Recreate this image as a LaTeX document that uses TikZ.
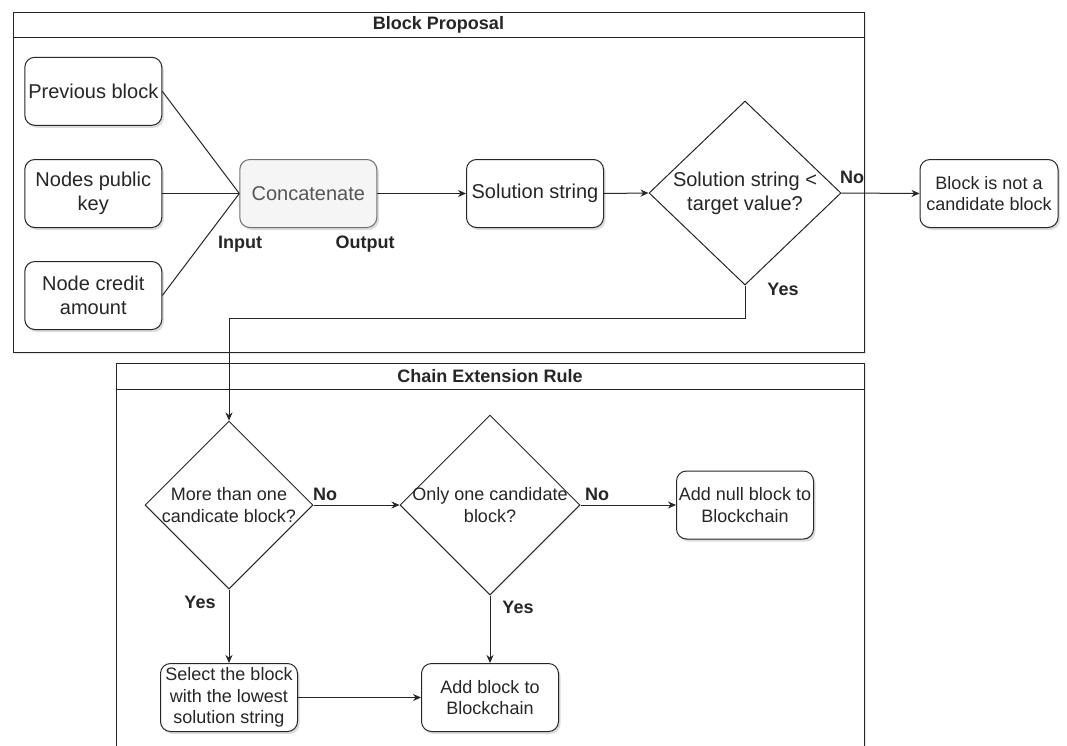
\documentclass[tikz,border=0pt]{standalone}
\usepackage{fontspec}
\setmainfont{Liberation Sans}
\usetikzlibrary{shapes.geometric,arrows.meta,shadows,calc}
\definecolor{ink}{HTML}{262626}
\definecolor{softfill}{HTML}{F5F5F5}
\definecolor{softline}{HTML}{707070}
\definecolor{softtext}{HTML}{555555}
\begin{document}
\begin{tikzpicture}[x=1pt,y=-1pt,
  shade/.style={drop shadow={shadow xshift=2pt,shadow yshift=-2.5pt,fill=black!30,opacity=.45}},
  frameshade/.style={drop shadow={shadow xshift=1.5pt,shadow yshift=-2pt,fill=black!20,opacity=.45}},
  frame/.style={draw=ink,line width=1pt,fill=white,inner sep=0pt,frameshade},
  frameline/.style={draw=ink,line width=1pt},
  title/.style={font=\bfseries\fontsize{18}{21.6}\selectfont,text=ink,inner sep=0pt},
  box/.style={draw=ink,line width=1pt,rounded corners=10pt,fill=white,
    minimum width=137pt,minimum height=68pt,inner sep=1pt,align=center,
    text=ink,font=\fontsize{18}{21.6}\selectfont,shade},
  bigtext/.style={font=\fontsize{20}{24}\selectfont},
  softbox/.style={box,fill=softfill,draw=softline,text=softtext},
  decision/.style={diamond,draw=ink,line width=1pt,fill=white,inner sep=0pt},
  dtext/.style={align=center,text=ink,inner sep=0pt,font=\fontsize{18}{21.6}\selectfont},
  lbl/.style={font=\bfseries\fontsize{18}{21.6}\selectfont,text=ink,inner sep=0pt},
  conn/.style={draw=ink,line width=1pt},
  arr/.style={conn,-{Stealth[length=8pt,width=7pt]}}]
\useasboundingbox (0,0) rectangle (1067,745);
\clip (0,0) rectangle (1067,745);
\fill[white] (0,0) rectangle (1067,745);

% swimlane frames
\node[frame,minimum width=851pt,minimum height=340pt] (bp) at (438.5,182) {};
\draw[frameline] ($(bp.north west)+(0,26)$) -- ($(bp.north east)+(0,26)$);
\node[title] (bptitle) at ($(bp.north)+(0,13)$) {Block Proposal};

\node[frame,minimum width=748pt,minimum height=417pt] (ce) at (490,571.5) {};
\draw[frameline] ($(ce.north west)+(0,27)$) -- ($(ce.north east)+(0,27)$);
\node[title] (cetitle) at ($(ce.north)+(0,13.5)$) {Chain Extension Rule};

% block proposal
\node[box,bigtext] (prev) at (93.3,91.3) {Previous block};
\node[box,bigtext] (pubkey) at (93.3,193.5) {Nodes public\\key};
\node[box,bigtext] (credit) at (93.3,295.5) {Node credit\\amount};
\node[softbox,bigtext] (concat) at (308.3,193.5) {Concatenate};
\node[box,bigtext] (sol) at (535,193.5) {Solution string};
\node[decision,minimum width=192pt,minimum height=184pt] (dec1) at (745,193) {};
\node[dtext,bigtext] (dec1t) at (dec1) {Solution string <\\target value?};
\node[box,minimum width=138pt] (notcand) at (989,193.5) {Block is not a\\candidate block};

\node[lbl] (inlbl) at (240,244) {Input};
\node[lbl] (outlbl) at (365,244) {Output};

\draw[conn] (prev.east) -- (concat.west);
\draw[conn] (pubkey.east) -- (concat.west);
\draw[conn] (credit.east) -- (concat.west);
\draw[arr] (concat.east) -- (sol.west);
\draw[arr] (sol.east) -- (dec1.west);
\draw[arr] (dec1.east) -- (notcand.west);
\node[lbl] (no0) at (852,177) {No};
\node[lbl] (yes0) at (783,289) {Yes};

% chain extension rule
\node[decision,minimum width=168pt,minimum height=168pt] (more) at (229,505) {};
\node[dtext] (moret) at (more) {More than one\\candicate block?};
\node[decision,minimum width=180pt,minimum height=180pt] (only) at (490,505) {};
\node[dtext] (onlyt) at (only) {Only one candidate\\block?};
\node[box] (null) at (745,505) {Add null block to\\Blockchain};
\node[box] (select) at (229,697.5) {Select the block\\with the lowest\\solution string};
\node[box] (add) at (490,697.5) {Add block to\\Blockchain};

\draw[arr] (dec1.south) -- ++(0,33) -| (more.north);
\draw[arr] (more.east) -- (only.west);
\draw[arr] (only.east) -- (null.west);
\draw[arr] (more.south) -- (select.north);
\draw[arr] (only.south) -- (add.north);
\draw[arr] (select.east) -- (add.west);
\node[lbl] (no1) at (325,494) {No};
\node[lbl] (no2) at (597,494) {No};
\node[lbl] (yes1) at (200,602) {Yes};
\node[lbl] (yes2) at (518,607) {Yes};
\end{tikzpicture}
\end{document}
